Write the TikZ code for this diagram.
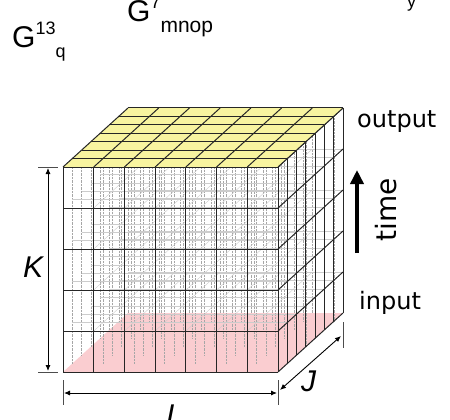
\documentclass[tikz,border=0pt]{standalone}
\usepackage{fontspec}
\usepackage{xcolor}
\usepackage{tikz}
\usetikzlibrary{arrows.meta}
\newfontfamily\arialfont{Liberation Sans}
\newfontfamily\dejafont{DejaVu Sans}
\definecolor{topyellow}{RGB}{248,244,160}
\definecolor{inpink}{RGB}{250,205,208}

\begin{document}
\begin{tikzpicture}[x=1pt, y=-1pt,
    grid/.style={draw=black!85, line width=1pt},
    inner/.style={draw=gray!70, line width=0.4pt, densely dotted},
    faint/.style={draw=gray!40, line width=0.4pt},
    tick/.style={draw=black!70, line width=0.6pt},
    dim/.style={{Latex[length=6pt,width=5pt]}-{Latex[length=6pt,width=5pt]}, line width=0.9pt},
    dimlabel/.style={font=\arialfont\itshape\fontsize{30}{30}\selectfont, anchor=base west, inner sep=0pt},
    side/.style={font=\dejafont\fontsize{24}{24}\selectfont, anchor=base west, inner sep=0pt}
  ]
    \useasboundingbox (0,0) rectangle (450,420);
    % cube corners
    \coordinate (ftl) at (63,167);
    \coordinate (ftr) at (278,167);
    \coordinate (fbl) at (63,372);
    \coordinate (fbr) at (278,372);
    \coordinate (btl) at (128,108);
    \coordinate (btr) at (343,108);
    \coordinate (bbr) at (343,313);
    \coordinate (bbl) at (128,313);

    \fill[inpink] (fbl) -- (fbr) -- (bbr) -- (bbl) -- cycle;

    \foreach \j in {1,...,7}
      \foreach \i in {0,...,7}
        \draw[inner] (63+\i*30.714+\j*9.286, 167-\j*8.429) -- ++(0,205);
    \foreach \j in {1,...,7}
      \foreach \k in {1,...,4}
        \draw[faint] (63+\j*9.286, 167+\k*41-\j*8.429) -- ++(215,0);
    \foreach \i in {1,...,6}
      \foreach \k in {1,...,4}
        \draw[faint] (63+\i*30.714, 167+\k*41) -- ++(65,-59);

    % front face
    \foreach \i in {0,...,7}
      \draw[grid] (63+\i*30.714,167) -- (63+\i*30.714,372);
    \foreach \k in {0,...,5}
      \draw[grid] (63,167+\k*41) -- (278,167+\k*41);
    % right face
    \foreach \j in {1,...,7}
      \draw[grid] (278+\j*9.286,167-\j*8.429) -- ++(0,205);
    \foreach \k in {0,...,5}
      \draw[grid] (278,167+\k*41) -- ++(65,-59);
    % top face
    \fill[topyellow] (ftl) -- (ftr) -- (btr) -- (btl) -- cycle;
    \foreach \j in {0,...,7}
      \draw[grid] (63+\j*9.286,167-\j*8.429) -- ++(215,0);
    \foreach \i in {0,...,7}
      \draw[grid] (63+\i*30.714,167) -- ++(65,-59);

    % dimensions
    \draw[tick] (38,167) -- (58,167);
    \draw[tick] (38,372) -- (58,372);
    \draw[tick] (63,380) -- (63,405);
    \draw[tick] (278,380) -- (278,405);
    \draw[tick] (343,322) -- (343,348);
    \coordinate (kt) at (48,168);
    \coordinate (kb) at (48,371);
    \coordinate (il) at (64,393);
    \coordinate (ir) at (277,393);
    \coordinate (jf) at (280,390);
    \coordinate (jb) at (341,336);
    \draw[dim] (kt) -- (kb);
    \draw[dim] (il) -- (ir);
    \draw[dim] (jf) -- (jb);
    \node[dimlabel] (klab) at (23,277) {K};
    \node[dimlabel] (ilab) at (166,425) {I};
    \node[dimlabel] (jlab) at (301,391) {J};

    % time
    \node[side] (output) at (357,128) {output};
    \node[side] (input) at (359,309) {input};
    \node[font=\dejafont\fontsize{28}{28}\selectfont, rotate=90, inner sep=0pt] (time) at (386,210) {time};
    \coordinate (tb) at (357,253);
    \coordinate (tt) at (357,170);
    \draw[-{Triangle[length=14pt,width=13pt]}, line width=4pt] (tb) -- (tt);

    % labels on top
    \node[anchor=base west, inner sep=0pt, font=\arialfont] (g13) at (12,48)
      {\fontsize{30}{30}\selectfont G\fontsize{18}{18}\selectfont\raisebox{13pt}{13}\raisebox{-10pt}{q}};
    \node[anchor=base west, inner sep=0pt, font=\arialfont] (g7) at (127,22)
      {\fontsize{30}{30}\selectfont G\fontsize{18}{18}\selectfont\raisebox{13pt}{7}\fontsize{21}{21}\selectfont\raisebox{-11pt}{mnop}};
    \node[anchor=base west, inner sep=0pt, font=\arialfont\fontsize{18}{18}\selectfont] (ylab) at (407,8) {y};
  \end{tikzpicture}
\end{document}
